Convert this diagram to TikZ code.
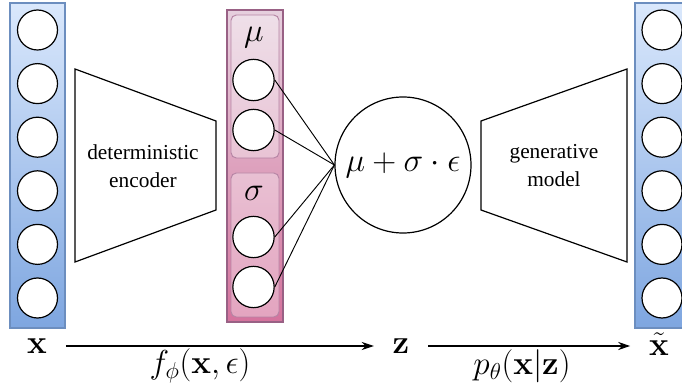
\documentclass[tikz,border=0pt]{standalone}
\usepackage{amsmath,amssymb}
\usepackage[no-math]{fontspec}
\newfontfamily\txtfont{Liberation Serif}
\usetikzlibrary{arrows.meta}
\definecolor{bluetop}{HTML}{DAE8FC}
\definecolor{bluebot}{HTML}{7EA6E0}
\definecolor{blueline}{HTML}{6C8EBF}
\definecolor{pinktop}{HTML}{E6D0DE}
\definecolor{pinkbot}{HTML}{D5739D}
\definecolor{pinkline}{HTML}{996185}
\definecolor{pinkin}{HTML}{B584A4}

\begin{document}
\begin{tikzpicture}[x=0.75pt, y=-0.75pt,
  bcol/.style={draw=blueline, line width=0.8pt, top color=bluetop, bottom color=bluebot},
  pcol/.style={draw=pinkline, line width=0.8pt, top color=pinktop, bottom color=pinkbot},
  pbox/.style={draw=pinkin, line width=0.7pt, rounded corners=4pt, fill=white, fill opacity=0.35},
  nrn/.style={circle, draw, fill=white, minimum size=30pt, inner sep=0pt, line width=0.9pt},
  trap/.style={draw, line width=0.9pt},
  trtxt/.style={align=center, font=\txtfont\fontsize{16}{21}\selectfont},
  zsmp/.style={circle, draw, minimum size=102pt, inner sep=0pt, line width=0.9pt,
               font=\fontsize{23}{27}\selectfont},
  wire/.style={line width=0.7pt},
  nn/.style={-{Stealth[length=9pt, width=6pt]}, line width=0.8pt, shorten <=14pt, shorten >=14pt},
  vlbl/.style={inner sep=0pt, font=\fontsize{23}{27}\selectfont},
  plbl/.style={font=\fontsize{23}{27}\selectfont},
  glbl/.style={font=\fontsize{25}{29}\selectfont}
]
\clip (0,0) rectangle (682,388);

% ---------------- input layer ----------------
\draw[bcol] (10,3) rectangle (65,328);
\foreach \i in {1,...,6}
  \node[nrn] (xin\i) at (37.5,{30+53.6*(\i-1)}) {};

% ---------------- encoder ----------------
\draw[trap] (75,69) -- (216,121) -- (216,210) -- (75,262) -- cycle;
\node[trtxt] (enc) at (143,166) {deterministic\\encoder};

% ---------------- mu / sigma ----------------
\draw[pcol] (227,10) rectangle (283,322);
\draw[pbox] (231,15) rectangle (279,158);
\draw[pbox] (231,173) rectangle (279,317);
\node[glbl] (mulbl) at (254,38) {$\mu$};
\node[glbl] (sglbl) at (254,193) {$\sigma$};
\node[nrn, minimum size=31pt] (mu1) at (253.5,80) {};
\node[nrn, minimum size=31pt] (mu2) at (253.5,130) {};
\node[nrn, minimum size=31pt] (sg1) at (253.5,237) {};
\node[nrn, minimum size=31pt] (sg2) at (253.5,287) {};

% ---------------- sampling ----------------
\node[zsmp] (zs) at (403,165) {$\mu+\sigma\cdot\epsilon$};
\foreach \m in {mu1,mu2,sg1,sg2}
  \draw[wire] (\m.east) -- (zs.west);

% ---------------- decoder ----------------
\draw[trap] (481,121) -- (627,69) -- (627,262) -- (481,210) -- cycle;
\node[trtxt] (dec) at (554,166) {generative\\model};

% ---------------- output layer ----------------
\draw[bcol] (635,3) rectangle (690,328);
\foreach \i in {1,...,6}
  \node[nrn] (xout\i) at (662,{30+53.6*(\i-1)}) {};

% ---------------- bottom ----------------
\node[vlbl] (xv) at (37,346) {$\mathbf{x}$};
\node[vlbl] (zv) at (401,346) {$\mathbf{z}$};
\node[vlbl] (xt) at (659,344) {$\tilde{\mathbf{x}}$};
\draw[nn] (xv) -- (zv);
\draw[nn] (zv) -- (xt.west |- zv);
\node[plbl] (flbl) at (200,366) {$f_\phi(\mathbf{x},\epsilon)$};
\node[plbl] (plbl) at (522,366) {$p_\theta(\mathbf{x}|\mathbf{z})$};
\end{tikzpicture}
\end{document}
